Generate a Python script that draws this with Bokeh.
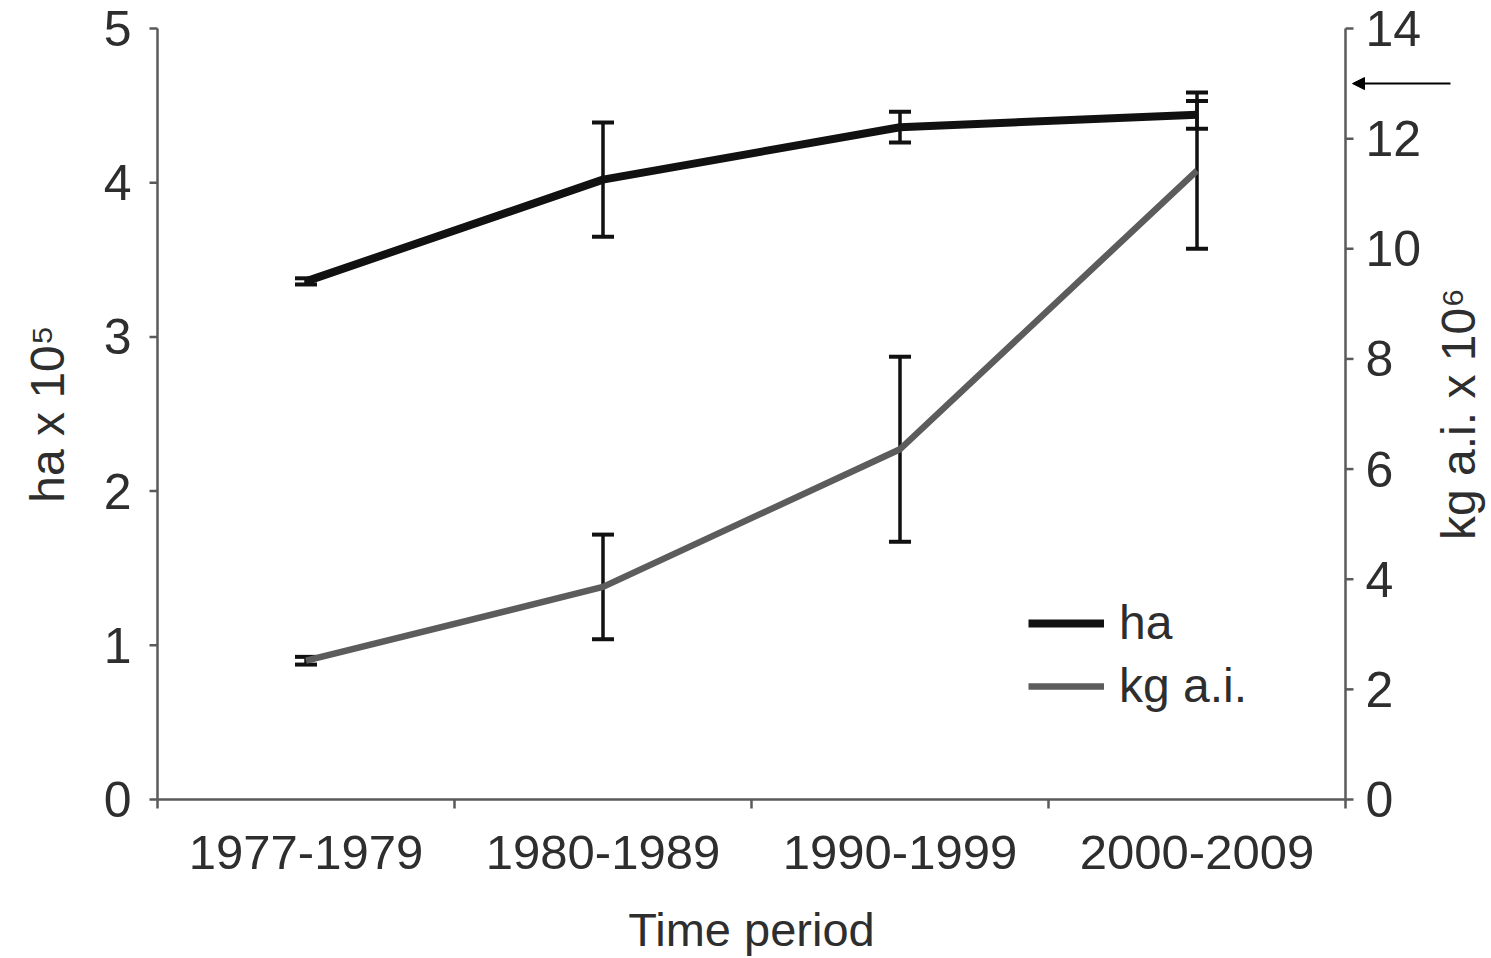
import math
from bokeh.plotting import figure
from bokeh.models import (Range1d, ColumnDataSource, Whisker, TeeHead, Legend, LegendItem,
                          Arrow, NormalHead)
from bokeh.core.properties import value
from bokeh.embed import file_html
from bokeh.resources import INLINE

# ---- data ----
periods = ["1977-1979", "1980-1989", "1990-1999", "2000-2009"]
ha_mean = [3.36, 4.02, 4.36, 4.44]          # ha x 10^5
ha_err = [0.02, 0.37, 0.10, 0.09]
kg_mean = [2.52, 3.86, 6.36, 11.42]         # kg a.i. x 10^6
kg_err = [0.07, 0.95, 1.68, 1.42]
left_ticks = [0, 1, 2, 3, 4, 5]
left_labels = [str(t) for t in left_ticks]
right_ticks = [0, 2, 4, 6, 8, 10, 12, 14]
right_labels = [str(t) for t in right_ticks]
arrow_value = 13                             # marker on right axis

FONT = "Liberation Sans"
TXT = "#2e2e2e"
AX = "#5a5a5a"

# ---- layout (pixels) ----
W, H = 1491, 958
AXIS_LEFT = 157            # canvas x of the left value axis
AXIS_RIGHT = 1345          # canvas x of the right value axis
AXIS_TOP = 28              # canvas y of the top of both value axes
AXIS_Y0 = 799              # canvas y of the value 0 (bottom axis line)
L_MAX, R_MAX = 5, 14

n = len(periods)
ppu_x = (AXIS_RIGHT - AXIS_LEFT) / n                # pixels per category
ppl = (AXIS_Y0 - AXIS_TOP) / L_MAX                  # pixels per left unit
ppr = (AXIS_Y0 - AXIS_TOP) / R_MAX                  # pixels per right unit
xpos = [i + 0.5 for i in range(n)]

# the frame covers the whole canvas; all axes are drawn from the data arrays so that
# their texts are not clipped
p = figure(width=W, height=H, output_backend="svg", toolbar_location=None,
           x_range=Range1d(-AXIS_LEFT / ppu_x, (W - AXIS_LEFT) / ppu_x),
           y_range=Range1d(-(H - AXIS_Y0) / ppl, AXIS_Y0 / ppl),
           x_axis_type=None, y_axis_type=None,
           min_border_left=0, min_border_right=0, min_border_top=0, min_border_bottom=0)
p.outline_line_color = None
p.grid.visible = False
p.background_fill_color = "white"
p.border_fill_color = "white"
p.extra_y_ranges = {"right": Range1d(-(H - AXIS_Y0) / ppr, AXIS_Y0 / ppr)}

txt = dict(text_font=value(FONT), text_color=TXT)

# left axis
p.segment(x0=[0], y0=[0], x1=[0], y1=[L_MAX], line_color=AX, line_width=2.5)
p.ray(x=[0] * len(left_ticks), y=left_ticks, length=8, length_units="screen",
      angle=math.pi, line_color=AX, line_width=2.5)
p.text(x=[0] * len(left_ticks), y=left_ticks, text=left_labels, x_offset=-26,
       text_align="right", text_baseline="middle", text_font_size="50px", **txt)
p.text(x=[0], y=[L_MAX / 2], text=["ha x 10⁵"], x_offset=-110, angle=math.pi / 2,
       text_align="center", text_baseline="middle", text_font_size="48px", **txt)

# bottom axis (line, boundary ticks, category labels, title)
p.segment(x0=[0], y0=[0], x1=[n], y1=[0], line_color=AX, line_width=2.5)
p.ray(x=list(range(n + 1)), y=[0] * (n + 1), length=9, length_units="screen",
      angle=-math.pi / 2, line_color=AX, line_width=2.5)
p.text(x=xpos, y=[-(852 - AXIS_Y0) / ppl] * n, text=periods, text_align="center",
       text_baseline="middle", text_font_size="49px", **txt)
p.text(x=[n / 2], y=[-(929 - AXIS_Y0) / ppl], text=["Time period"], text_align="center",
       text_baseline="middle", text_font_size="47px", **txt)

# right axis
p.segment(x0=[n], y0=[0], x1=[n], y1=[R_MAX], y_range_name="right",
          line_color=AX, line_width=2.5)
p.ray(x=[n] * len(right_ticks), y=right_ticks, length=8, length_units="screen", angle=0,
      y_range_name="right", line_color=AX, line_width=2.5)
p.text(x=[n] * len(right_ticks), y=right_ticks, text=right_labels, y_range_name="right",
       x_offset=20, text_align="left", text_baseline="middle", text_font_size="50px", **txt)
p.text(x=[n], y=[R_MAX / 2], text=["kg a.i. x 10⁶"], y_range_name="right",
       x_offset=113, angle=math.pi / 2, text_align="center", text_baseline="middle",
       text_font_size="48px", **txt)

src = ColumnDataSource(dict(
    x=xpos, ha=ha_mean,
    ha_lo=[m - e for m, e in zip(ha_mean, ha_err)],
    ha_hi=[m + e for m, e in zip(ha_mean, ha_err)],
    kg=kg_mean,
    kg_lo=[m - e for m, e in zip(kg_mean, kg_err)],
    kg_hi=[m + e for m, e in zip(kg_mean, kg_err)],
))

r_kg = p.line("x", "kg", source=src, y_range_name="right", line_color="#5c5c5c",
              line_width=6.5)
r_ha = p.line("x", "ha", source=src, line_color="#111111", line_width=8)

for lo, hi, rn in [("ha_lo", "ha_hi", "default"), ("kg_lo", "kg_hi", "right")]:
    w = Whisker(source=src, base="x", lower=lo, upper=hi, y_range_name=rn,
                line_color="#111111", line_width=3.5,
                upper_head=TeeHead(size=22, line_color="#111111", line_width=4),
                lower_head=TeeHead(size=22, line_color="#111111", line_width=4))
    p.add_layout(w)

legend = Legend(items=[LegendItem(label="ha", renderers=[r_ha]),
                       LegendItem(label="kg a.i.", renderers=[r_kg])],
                location=(1028, 86 + H - AXIS_Y0), border_line_color=None,
                background_fill_alpha=0,
                label_text_font=FONT, label_text_font_size="48px",
                label_text_color=TXT, glyph_width=76, glyph_height=50,
                label_standoff=15, spacing=8, padding=0, margin=0)
p.add_layout(legend)

# arrow pointing at the value 13 on the right axis
p.add_layout(Arrow(x_start=n + 105 / ppu_x, x_end=n + 7 / ppu_x,
                   y_start=arrow_value, y_end=arrow_value, y_range_name="right",
                   line_color="black", line_width=2,
                   end=NormalHead(size=12, fill_color="black", line_color="black",
                                  line_width=1)))

open("out.html", "w").write(file_html(p, INLINE))
